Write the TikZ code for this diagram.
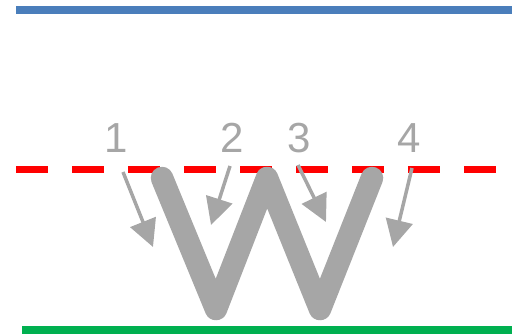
\documentclass[tikz,border=0pt]{standalone}
\usepackage{fontspec}
\setmainfont{Liberation Sans}
\usepackage{tikz}
\usetikzlibrary{arrows.meta}

\definecolor{topblue}{HTML}{4A7EBB}
\definecolor{basegreen}{HTML}{00B050}
\definecolor{markgray}{HTML}{A6A6A6}

\tikzset{
    numlabel/.style={text=markgray, inner sep=0pt, font=\fontsize{42}{42}\selectfont},
    pointer/.style={draw=markgray, line width=3.5pt, -{Triangle[length=27pt, width=27pt]}}
}

\begin{document}
\begin{tikzpicture}[x=1pt, y=-1pt]
        \useasboundingbox (0,0) rectangle (512,335);

        % Top and bottom borders
        \draw[topblue, line width=8pt] (16,9.5) -- (512,9.5);
        \draw[basegreen, line width=8pt] (22,330) -- (512,330);

        % Dashed middle line
        \draw[red, line width=7.5pt, dash pattern=on 32pt off 24pt] (16,169.5) -- (496,169.5);

        % The big W
        \draw[markgray, line width=22.5pt, line cap=round, line join=round]
            (162,178) -- (216,309) -- (267,178) -- (320,309) -- (372,178);

        % Number labels
        \node[numlabel] (n1) at (116,138) {1};
        \node[numlabel] (n2) at (232,138) {2};
        \node[numlabel] (n3) at (299,138) {3};
        \node[numlabel] (n4) at (409,138) {4};

        % Arrow ends
        \coordinate (s1) at (123,172);
        \coordinate (t1) at (153,247);
        \coordinate (s2) at (230,166);
        \coordinate (t2) at (211,225);
        \coordinate (s3) at (298,165);
        \coordinate (t3) at (326,222);
        \coordinate (s4) at (412,168);
        \coordinate (t4) at (393,247);

        % Arrows
        \draw[pointer] (s1) -- (t1);
        \draw[pointer] (s2) -- (t2);
        \draw[pointer] (s3) -- (t3);
        \draw[pointer] (s4) -- (t4);

    \end{tikzpicture}
\end{document}
